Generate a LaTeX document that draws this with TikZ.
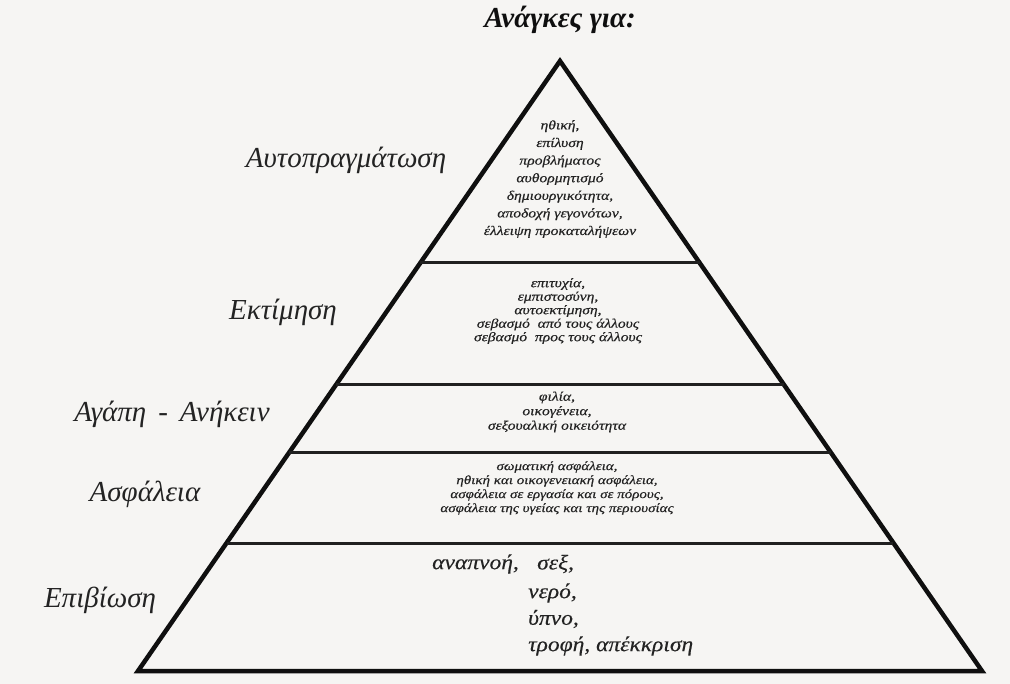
\documentclass[tikz,border=0pt]{standalone}
\usepackage{fontspec}
\setmainfont{Liberation Serif}
\newfontfamily\widef[FakeStretch=1.2,FakeBold=0.4]{Liberation Serif}
\newfontfamily\survf[FakeStretch=1.12,FakeBold=0.3]{Liberation Serif}
\usetikzlibrary{calc}
\definecolor{bgcol}{RGB}{246,245,243}
\definecolor{inkcol}{RGB}{15,15,15}
\definecolor{txtcol}{RGB}{35,35,35}
\begin{document}
\begin{tikzpicture}[x=1pt,y=-1pt,
  sideline/.style={line width=4.5pt,draw=inkcol,line join=miter},
  divline/.style={line width=3pt,draw=inkcol!85!gray},
  lab/.style={font=\fontsize{29}{32}\selectfont\itshape,text=txtcol,inner sep=0pt},
  ttl/.style={font=\fontsize{29}{31}\selectfont\itshape\bfseries,text=inkcol,inner sep=0pt},
  tierA/.style={font=\widef\fontsize{13}{17.6}\selectfont\itshape,text=txtcol,align=center,inner sep=0pt},
  tierB/.style={font=\widef\fontsize{13}{13.5}\selectfont\itshape,text=txtcol,align=center,inner sep=0pt},
  tierC/.style={font=\widef\fontsize{13}{14.5}\selectfont\itshape,text=txtcol,align=center,inner sep=0pt},
  tierD/.style={font=\widef\fontsize{12.5}{14}\selectfont\itshape,text=txtcol,align=center,inner sep=0pt},
  tierE/.style={font=\survf\fontsize{21}{24}\selectfont\itshape,text=txtcol,inner sep=0pt,anchor=west}]
\fill[bgcol] (0,0) rectangle (1010,684);
\useasboundingbox (0,0) rectangle (1010,684);
% pyramid
\coordinate (A) at (560,61);
\coordinate (L) at (138,671);
\coordinate (R) at (982,671);
\draw[sideline] (A) -- (L) -- (R) -- cycle;
% dividers
\coordinate (l1) at ($(A)!0.3311!(L)$); \coordinate (r1) at ($(A)!0.3311!(R)$);
\coordinate (l2) at ($(A)!0.5311!(L)$); \coordinate (r2) at ($(A)!0.5311!(R)$);
\coordinate (l3) at ($(A)!0.6410!(L)$); \coordinate (r3) at ($(A)!0.6410!(R)$);
\coordinate (l4) at ($(A)!0.7902!(L)$); \coordinate (r4) at ($(A)!0.7902!(R)$);
\draw[divline] (l1) -- (r1);
\draw[divline] (l2) -- (r2);
\draw[divline] (l3) -- (r3);
\draw[divline] (l4) -- (r4);
% title
\node[ttl] (title) at (560,20) {Ανάγκες για:};
% left labels
\node[lab] (lab1) at (346,160) {Αυτοπραγμάτωση};
\node[lab] (lab2) at (283,312) {Εκτίμηση};
\node[lab] (lab3) at (172,414) {Αγάπη\hspace{12pt}-\hspace{12pt}Ανήκειν};
\node[lab] (lab4) at (145,494) {Ασφάλεια};
\node[lab] (lab5) at (100,600) {Επιβίωση};
% tier contents
\node[tierA] (t1) at (560,179) {ηθική,\\επίλυση\\προβλήματος\\αυθορμητισμό\\δημιουργικότητα,\\αποδοχή γεγονότων,\\έλλειψη προκαταλήψεων};
\node[tierB] (t2) at (558,311) {επιτυχία,\\εμπιστοσύνη,\\αυτοεκτίμηση,\\σεβασμό\ \ από τους άλλους\\σεβασμό\ \ προς τους άλλους};
\node[tierC] (t3) at (557,412) {φιλία,\\οικογένεια,\\σεξουαλική οικειότητα};
\node[tierD] (t4) at (557,488) {σωματική ασφάλεια,\\ηθική και οικογενειακή ασφάλεια,\\ασφάλεια σε εργασία και σε πόρους,\\ασφάλεια της υγείας και της περιουσίας};
\node[tierE] (e1) at (432,564) {αναπνοή,};
\node[tierE] (e2) at (537,564) {σεξ,};
\node[tierE] (e3) at (528,593) {νερό,};
\node[tierE] (e4) at (528,619) {ύπνο,};
\node[tierE] (e5) at (528,646) {τροφή, απέκκριση};
\end{tikzpicture}
\end{document}
